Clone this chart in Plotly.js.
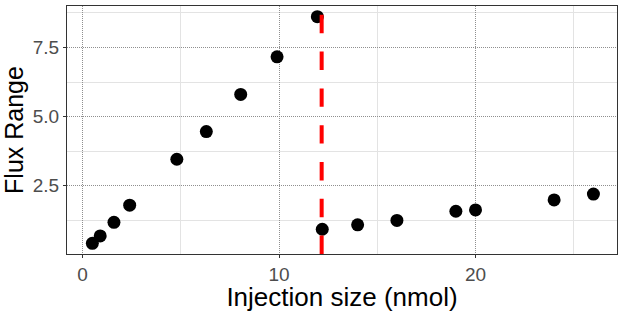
<!DOCTYPE html>
<html>
<head>
<meta charset="utf-8">
<script src="https://cdn.plot.ly/plotly-3.0.1.min.js"></script>
<style>html,body{margin:0;padding:0;background:#fff;}#chart{width:623px;height:312px;}</style>
</head>
<body>
<div id="chart"></div>
<script>
const injectionSize = [0.5, 0.9, 1.6, 2.4, 4.8, 6.3, 8.05, 9.9, 11.95, 12.2, 14.0, 16.0, 19.0, 20.0, 24.0, 26.0];
const fluxRange = [0.42, 0.69, 1.18, 1.80, 3.46, 4.46, 5.80, 7.16, 8.61, 0.93, 1.09, 1.25, 1.58, 1.63, 1.99, 2.20];
const cutoff = 12.17;
const xTicks = [0, 10, 20];
const yTicks = [2.5, 5.0, 7.5];
const yTickLabels = ['2.5', '5.0', '7.5'];

const font = 'Liberation Sans, Arial, sans-serif';

const trace = {
  x: injectionSize,
  y: fluxRange,
  type: 'scatter',
  mode: 'markers',
  marker: {color: '#000000', size: 13},
  hoverinfo: 'skip'
};

const layout = {
  width: 623,
  height: 312,
  margin: {l: 67, r: 6, t: 6, b: 58},
  paper_bgcolor: '#ffffff',
  plot_bgcolor: '#ffffff',
  showlegend: false,
  font: {family: font},
  xaxis: {
    range: [-0.79, 27.2],
    tickvals: xTicks,
    ticktext: xTicks.map(String),
    ticks: 'outside', ticklen: 3, tickwidth: 1, tickcolor: '#333333',
    tickfont: {size: 19, color: '#4D4D4D', family: font},
    showgrid: true, gridcolor: '#8F8F8F', gridwidth: 1, griddash: '1px,1px',
    minor: {tickvals: [5, 15, 25], showgrid: true, gridcolor: '#E3E3E3', gridwidth: 1, griddash: 'solid', ticks: ''},
    showline: true, mirror: true, linecolor: '#333333', linewidth: 1,
    zeroline: false,
    title: {text: 'Injection size (nmol)', font: {size: 26, color: '#000000', family: font}, standoff: 4}
  },
  yaxis: {
    range: [0.036, 8.996],
    tickvals: yTicks,
    ticktext: yTickLabels,
    ticks: 'outside', ticklen: 3, tickwidth: 1, tickcolor: '#333333',
    tickfont: {size: 19, color: '#4D4D4D', family: font},
    showgrid: true, gridcolor: '#8F8F8F', gridwidth: 1, griddash: '1px,1px',
    minor: {tickvals: [1.25, 3.75, 6.25, 8.75], showgrid: true, gridcolor: '#E3E3E3', gridwidth: 1, griddash: 'solid', ticks: ''},
    showline: true, mirror: true, linecolor: '#333333', linewidth: 1,
    zeroline: false,
    title: {text: 'Flux Range', font: {size: 25, color: '#000000', family: font}, standoff: 6}
  },
  shapes: [{
    type: 'line', xref: 'x', yref: 'paper',
    x0: cutoff, x1: cutoff, y0: 0, y1: 1,
    line: {color: '#FF0000', width: 4, dash: '18.4px,18.4px'},
    layer: 'above'
  }]
};

Plotly.newPlot('chart', [trace], layout, {staticPlot: true, displayModeBar: false});
</script>
</body>
</html>
